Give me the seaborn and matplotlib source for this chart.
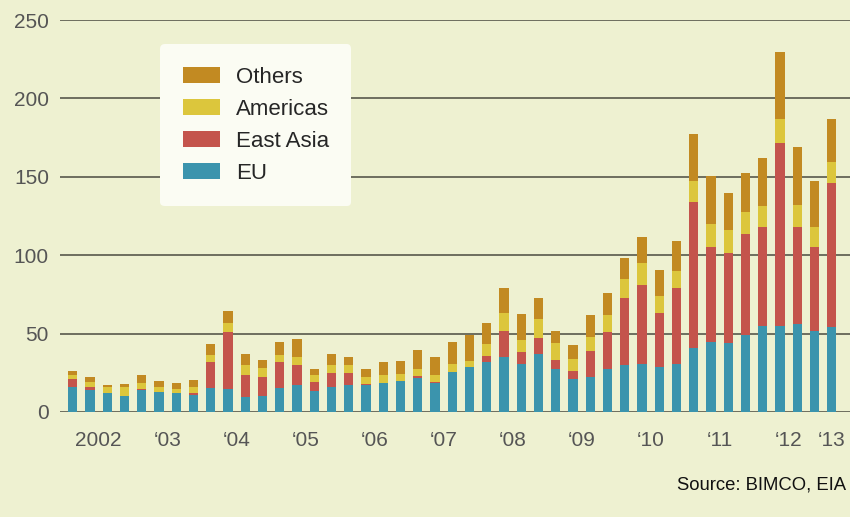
import numpy as np
import pandas as pd
import matplotlib
matplotlib.use("Agg")
import matplotlib.pyplot as plt
import seaborn as sns
from matplotlib.patches import Patch

# Quarterly values, 2002 Q1 .. 2013 Q1
years = list(range(2002, 2013))
quarters = [f"{y} Q{q}" for y in years for q in range(1, 5)] + ["2013 Q1"]

eu = [15.7, 14.0, 12.3, 10.4, 14.0, 12.5, 12.3, 10.8, 15.1,
      14.5, 9.8, 10.4, 15.5, 17.2, 13.6, 15.7, 17.2, 17.2,
      18.7, 19.8, 21.5, 18.3, 25.3, 28.5, 32.1, 34.9, 30.6,
      37.0, 27.2, 20.8, 22.1, 27.2, 29.8, 30.8, 28.5, 30.6,
      40.6, 44.4, 43.8, 49.1, 55.0, 55.0, 56.1, 51.7, 54.4]
east_asia = [5.1, 1.7, 0.0, 0.0, 0.5, 0.0, 0.0, 1.1, 16.8,
             36.7, 13.8, 11.7, 16.6, 12.8, 5.3, 9.4, 7.9, 0.5,
             0.0, 0.0, 1.5, 0.8, 0.0, 0.0, 3.6, 17.0, 7.9,
             10.0, 6.0, 5.3, 16.6, 24.0, 42.7, 50.2, 34.4, 48.8,
             93.5, 60.6, 57.4, 64.4, 63.2, 116.8, 62.1, 53.7, 91.8]
americas = [2.6, 3.6, 3.4, 5.3, 4.2, 3.7, 2.6, 3.8, 4.5,
            5.4, 6.4, 5.8, 4.3, 5.3, 4.7, 4.9, 4.7, 4.4,
            4.9, 4.4, 4.4, 4.5, 5.1, 4.2, 7.7, 11.0, 7.4,
            12.0, 11.0, 7.5, 9.3, 10.7, 12.2, 13.8, 11.1, 10.6,
            13.4, 15.0, 14.8, 14.2, 13.2, 14.9, 13.8, 12.8, 13.4]
others = [2.7, 3.0, 1.7, 1.9, 4.9, 3.6, 3.6, 4.5, 6.8,
          8.0, 7.0, 5.1, 8.0, 11.5, 3.6, 6.8, 5.1, 5.3,
          8.5, 8.5, 12.1, 11.7, 14.2, 16.4, 13.6, 16.0, 16.4,
          13.5, 7.7, 9.1, 13.9, 13.8, 13.5, 16.8, 16.3, 18.8,
          29.6, 30.7, 23.5, 24.5, 30.8, 43.1, 37.2, 29.3, 27.1]

year_labels = ["2002", "\u201803", "\u201804", "\u201805", "\u201806", "\u201807",
               "\u201808", "\u201809", "\u201810", "\u201811", "\u201812", "\u201813"]

series_names = ["Others", "Americas", "East Asia", "EU"]
colors = {"EU": "#3b94ad", "East Asia": "#c4544c",
          "Americas": "#dcc63c", "Others": "#c28a22"}

df = pd.DataFrame({"quarter": quarters, "EU": eu, "East Asia": east_asia,
                   "Americas": americas, "Others": others})
df["idx"] = np.arange(len(df))

# cumulative tops, drawn from tallest to shortest
stack_order = ["EU", "East Asia", "Americas", "Others"]
cum = df[stack_order].cumsum(axis=1)

sns.set_theme(style="white")
plt.rcParams["font.family"] = ["Liberation Sans", "DejaVu Sans"]

bg = "#eef1d1"
fig = plt.figure(figsize=(8.5, 5.17), dpi=100, facecolor=bg)
ax = fig.add_axes([0.0706, 0.2031, 0.9294, 0.7582])
ax.set_facecolor(bg)

for name in reversed(stack_order):
    sns.barplot(x=df["idx"], y=cum[name], color=colors[name], width=0.54,
                saturation=1, linewidth=0, edgecolor="none", ax=ax, zorder=3)

ax.set_xlim(-0.74, 45.06)
ax.set_ylim(0, 250)
ax.set_yticks([0, 50, 100, 150, 200, 250])
ax.yaxis.grid(True, color="#4a4a40", linewidth=1.1)
ax.set_axisbelow(True)
for s in ax.spines.values():
    s.set_visible(False)

tick_pos = [4 * i + 1.5 for i in range(len(years))] + [44]
ax.set_xticks(tick_pos)
ax.set_xticklabels(year_labels)
ax.tick_params(axis="both", length=0, labelsize=15, labelcolor="#555555")
ax.tick_params(axis="x", pad=14)
ax.tick_params(axis="y", pad=8)
ax.set_xlabel("")
ax.set_ylabel("")

handles = [Patch(facecolor=colors[n], edgecolor="none") for n in series_names]
leg = ax.legend(handles, series_names, loc="upper left",
                bbox_to_anchor=(0.127, 0.938), frameon=True, fontsize=16,
                handlelength=1.7, handleheight=0.72, labelspacing=0.5,
                handletextpad=0.7, borderpad=1.0, borderaxespad=0)
leg.get_frame().set_facecolor("#fbfcf3")
leg.get_frame().set_edgecolor("none")
leg.get_frame().set_alpha(1)
leg.set_zorder(5)

fig.text(0.995, 0.062, "Source: BIMCO, EIA", ha="right", va="center",
         fontsize=13.3, color="#111111")

fig.savefig("out.png", dpi=100, facecolor=bg)
